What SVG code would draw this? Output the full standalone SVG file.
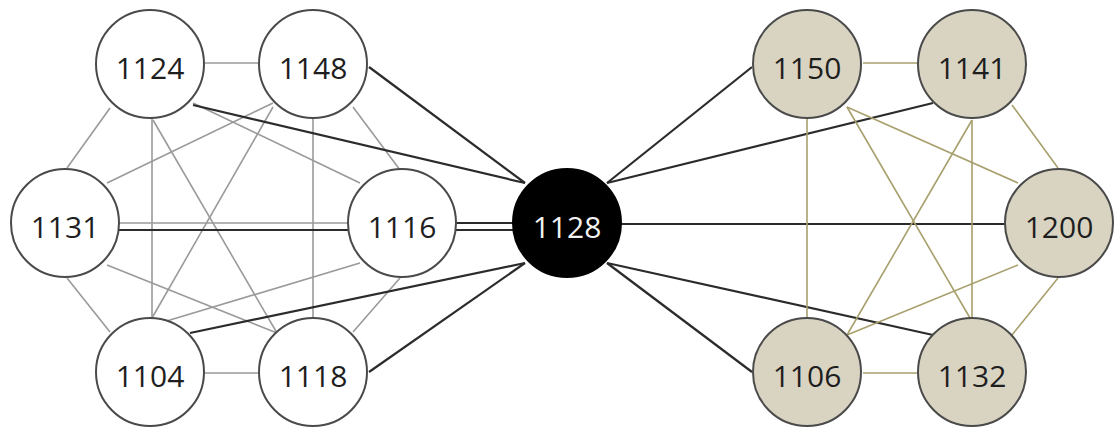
<svg xmlns="http://www.w3.org/2000/svg" width="1116" height="429" viewBox="0 0 1116 429">
<style>
.g{stroke:#9a9a9a;stroke-width:1.6;fill:none}
.d{stroke:#2b2b2b;stroke-width:2.2;fill:none}
.o{stroke:#a79f6c;stroke-width:1.6;fill:none}
.n circle{stroke:#4a4a4a;stroke-width:2;fill:#fff}
.t circle{stroke:#4a4a4a;stroke-width:2;fill:#d9d4c2}
.c circle{stroke:#000;stroke-width:2;fill:#000}
text{font-family:"Open Sans","Liberation Sans",sans-serif;font-size:30px;text-anchor:middle;fill:#1e1e1e}
.c text{fill:#f2f2f2}
</style>
<rect width="1116" height="429" fill="#fff"/>
<g id="connectors">
<line class="g" x1="205" y1="63" x2="258" y2="63"/>
<line class="g" x1="110" y1="108" x2="67" y2="168"/>
<line class="g" x1="152" y1="118" x2="152" y2="318"/>
<line class="g" x1="153" y1="120" x2="277" y2="333"/>
<line class="g" x1="193" y1="103" x2="360" y2="183"/>
<line class="g" x1="273" y1="103" x2="107" y2="183"/>
<line class="g" x1="273" y1="107" x2="152" y2="318"/>
<line class="g" x1="313" y1="118" x2="313" y2="318"/>
<line class="g" x1="353" y1="107" x2="400" y2="170"/>
<line class="g" x1="67" y1="278" x2="110" y2="332"/>
<line class="g" x1="107" y1="265" x2="277" y2="333"/>
<line class="g" x1="160" y1="323" x2="360" y2="263"/>
<line class="g" x1="353" y1="332" x2="400" y2="278"/>
<line class="g" x1="204" y1="373" x2="258" y2="373"/>
<line class="g" x1="118" y1="223" x2="349" y2="223"/>
<line class="d" x1="118" y1="230" x2="349" y2="230"/>
<line class="d" x1="455" y1="223" x2="514" y2="223"/>
<line class="d" x1="455" y1="230" x2="514" y2="230"/>
<line class="d" x1="193" y1="105" x2="525" y2="183"/>
<line class="d" x1="369" y1="67" x2="525" y2="183"/>
<line class="d" x1="190" y1="333" x2="525" y2="263"/>
<line class="d" x1="369" y1="372" x2="525" y2="263"/>
<line class="d" x1="607" y1="183" x2="752" y2="67"/>
<line class="d" x1="607" y1="183" x2="933" y2="103"/>
<line class="d" x1="620" y1="224" x2="1006" y2="224"/>
<line class="d" x1="607" y1="263" x2="933" y2="335"/>
<line class="d" x1="607" y1="263" x2="752" y2="372"/>
<line class="o" x1="863" y1="63" x2="917" y2="63"/>
<line class="o" x1="807" y1="119" x2="807" y2="318"/>
<line class="o" x1="847" y1="107" x2="970" y2="318"/>
<line class="o" x1="847" y1="107" x2="1018" y2="183"/>
<line class="o" x1="972" y1="120" x2="847" y2="335"/>
<line class="o" x1="972" y1="120" x2="972" y2="318"/>
<line class="o" x1="1012" y1="105" x2="1058" y2="168"/>
<line class="o" x1="1018" y1="265" x2="847" y2="335"/>
<line class="o" x1="1058" y1="278" x2="1012" y2="335"/>
<line class="o" x1="863" y1="373" x2="917" y2="373"/>
</g>
<g id="n1124" class="n"><circle cx="150" cy="64" r="54"/><text x="150" y="79">1124</text></g>
<g id="n1148" class="n"><circle cx="313" cy="64" r="54"/><text x="313" y="79">1148</text></g>
<g id="n1131" class="n"><circle cx="65" cy="223" r="54"/><text x="65" y="238">1131</text></g>
<g id="n1116" class="n"><circle cx="402" cy="223" r="54"/><text x="402" y="238">1116</text></g>
<g id="n1104" class="n"><circle cx="150" cy="372" r="54"/><text x="150" y="387">1104</text></g>
<g id="n1118" class="n"><circle cx="313" cy="372" r="54"/><text x="313" y="387">1118</text></g>
<g id="n1128" class="c"><circle cx="567" cy="223" r="54"/><text x="567" y="238">1128</text></g>
<g id="n1150" class="t"><circle cx="807" cy="64" r="54"/><text x="807" y="79">1150</text></g>
<g id="n1141" class="t"><circle cx="972" cy="64" r="54"/><text x="972" y="79">1141</text></g>
<g id="n1200" class="t"><circle cx="1059" cy="223" r="54"/><text x="1059" y="238">1200</text></g>
<g id="n1106" class="t"><circle cx="807" cy="372" r="54"/><text x="807" y="387">1106</text></g>
<g id="n1132" class="t"><circle cx="972" cy="372" r="54"/><text x="972" y="387">1132</text></g>
</svg>
